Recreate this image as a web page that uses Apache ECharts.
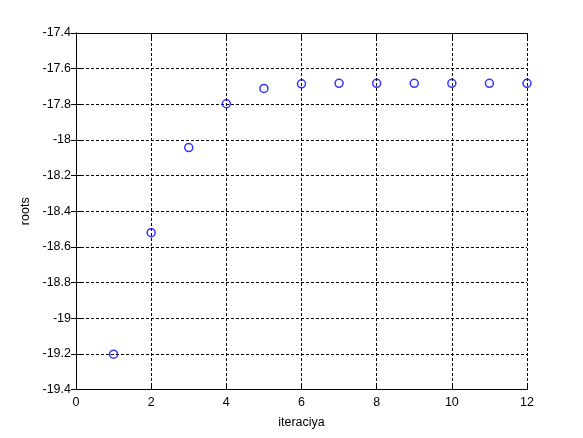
<!DOCTYPE html>
<html><head><meta charset="utf-8">
<script src="https://cdn.jsdelivr.net/npm/echarts@6/dist/echarts.min.js"></script>
<style>html,body{margin:0;padding:0;background:#fff}#c{width:583px;height:438px}</style>
</head><body><div id="c"></div>
<script>
const iterations = [1,2,3,4,5,6,7,8,9,10,11,12];
const roots = [-19.202,-18.52,-18.043,-17.797,-17.711,-17.685,-17.682,-17.682,-17.682,-17.682,-17.682,-17.682];
const xLabel = 'iteraciya';
const yLabel = 'roots';
const font = 'Liberation Sans, Arial, Helvetica, sans-serif';
const chart = echarts.init(document.getElementById('c'), null, {renderer:'canvas'});
const dash = {color:'#000', width:1, type:[3,2]};
chart.setOption({
  animation:false,
  backgroundColor:'#fff',
  grid:{left:76, top:33, right:56, bottom:48.5, show:false},
  xAxis:[{
    type:'value', min:0, max:12, interval:2, position:'bottom',
    name:xLabel, nameLocation:'middle', nameGap:27,
    nameTextStyle:{color:'#000', fontSize:12.5, fontFamily:font},
    axisLine:{show:true, lineStyle:{color:'#000', width:1}},
    axisTick:{show:true, inside:true, length:5, lineStyle:{color:'#000'}},
    axisLabel:{color:'#000', fontSize:12.5, fontFamily:font, margin:7},
    splitLine:{show:true, lineStyle:dash}
  },{
    type:'value', min:0, max:12, interval:2, position:'top',
    axisLine:{show:true, lineStyle:{color:'#000', width:1}},
    axisTick:{show:true, inside:true, length:5, lineStyle:{color:'#000'}},
    axisLabel:{show:false}, splitLine:{show:false}
  }],
  yAxis:[{
    type:'value', min:-19.4, max:-17.4, interval:0.2, position:'left',
    name:yLabel, nameLocation:'middle', nameGap:38, nameRotate:90,
    nameTextStyle:{color:'#000', fontSize:12.5, fontFamily:font, padding:[0,0,6,0]},
    axisLine:{show:true, lineStyle:{color:'#000', width:1}},
    axisTick:{show:true, inside:true, length:5, lineStyle:{color:'#000'}},
    axisLabel:{color:'#000', fontSize:12.5, fontFamily:font, margin:5,
      formatter:v=>String(Math.round(v*10)/10)},
    splitLine:{show:true, lineStyle:dash}
  },{
    type:'value', min:-19.4, max:-17.4, interval:0.2, position:'right',
    axisLine:{show:true, lineStyle:{color:'#000', width:1}},
    axisTick:{show:true, inside:true, length:5, lineStyle:{color:'#000'}},
    axisLabel:{show:false}, splitLine:{show:false}
  }],
  series:[{
    type:'scatter',
    data:iterations.map((x,i)=>[x, roots[i]]),
    symbol:'circle', symbolSize:8,
    itemStyle:{color:'rgba(0,0,0,0)', borderColor:'#0000ff', borderWidth:1.5}
  }]
});
</script></body></html>
